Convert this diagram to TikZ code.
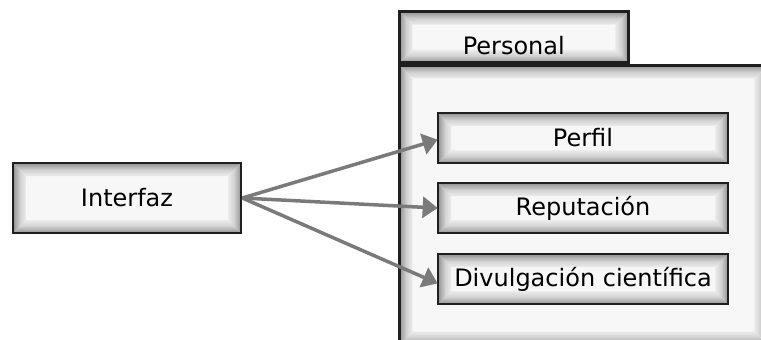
\documentclass[tikz,border=0pt]{standalone}
\usepackage{fontspec}
\setmainfont{DejaVu Sans}
\usetikzlibrary{arrows.meta}

\colorlet{boxfill}{white!97!black}
% edge-to-centre falloff of the inner shadow (0bp = outer edge)
\pgfdeclareverticalshading{edgev}{100bp}{color(0bp)=(black!80); color(12bp)=(black!62);
  color(30bp)=(black!38); color(52bp)=(black!18); color(78bp)=(black!6); color(100bp)=(boxfill)}
\pgfdeclarehorizontalshading{edgeh}{100bp}{color(0bp)=(black!80); color(12bp)=(black!62);
  color(30bp)=(black!38); color(52bp)=(black!18); color(78bp)=(black!6); color(100bp)=(boxfill)}

\newcommand{\glowdepth}{13pt}

\tikzset{
  % soft inner shadow built from four shaded, mitred bands
  glow/.style={
    fill=boxfill, draw=black!88, line width=2.6pt,
    path picture={
      \coordinate (gA) at (path picture bounding box.north west);
      \coordinate (gB) at (path picture bounding box.north east);
      \coordinate (gC) at (path picture bounding box.south east);
      \coordinate (gD) at (path picture bounding box.south west);
      \coordinate (ga) at ([shift={(\glowdepth,-\glowdepth)}]gA);
      \coordinate (gb) at ([shift={(-\glowdepth,-\glowdepth)}]gB);
      \coordinate (gc) at ([shift={(-\glowdepth,\glowdepth)}]gC);
      \coordinate (gd) at ([shift={(\glowdepth,\glowdepth)}]gD);
      \shade[shading=edgev] (gD) -- (gC) -- (gc) -- (gd) -- cycle;
      \shade[shading=edgev, shading angle=180] (gA) -- (gB) -- (gb) -- (ga) -- cycle;
      \shade[shading=edgeh] (gA) -- (ga) -- (gd) -- (gD) -- cycle;
      \shade[shading=edgeh, shading angle=180] (gB) -- (gb) -- (gc) -- (gC) -- cycle;
    }
  },
  box/.style={glow, rectangle, inner sep=0pt, font=\fontsize{24}{26}\selectfont},
  link/.style={draw=black!52, line width=3.5pt,
    -{Triangle[length=15pt,width=21pt]}, shorten >=-1pt}
}

\begin{document}
\begin{tikzpicture}[x=1pt, y=-1pt]
  \useasboundingbox (0,0) rectangle (761,340);
  \fill[white] (0,0) rectangle (761,340);

  \begin{scope}
    \clip (0,0) rectangle (761,340);
    % package body, running past the right and bottom edges
    \node[box, minimum width=368pt, minimum height=279pt, anchor=north west]
      (package) at (398,64) {};
    % package tab
    \node[box, minimum width=229pt, minimum height=51pt, anchor=south west,
      text height=35pt, text depth=0pt]
      (tab) at (398,64) {Personal};
  \end{scope}

  \node[box, minimum width=228pt, minimum height=70pt] (interfaz) at (127,198) {Interfaz};

  \node[box, minimum width=290pt, minimum height=50pt] (perfil) at (583,138) {Perfil};
  \node[box, minimum width=290pt, minimum height=50pt] (reputacion) at (583,208) {Reputación};
  \node[box, minimum width=290pt, minimum height=50pt] (divulgacion) at (583,279) {Divulgación científica};

  \draw[link] (interfaz.east) -- ([yshift=-2pt]perfil.west);
  \draw[link] (interfaz.east) -- (reputacion.west);
  \draw[link] (interfaz.east) -- ([yshift=-4pt]divulgacion.west);
\end{tikzpicture}
\end{document}
